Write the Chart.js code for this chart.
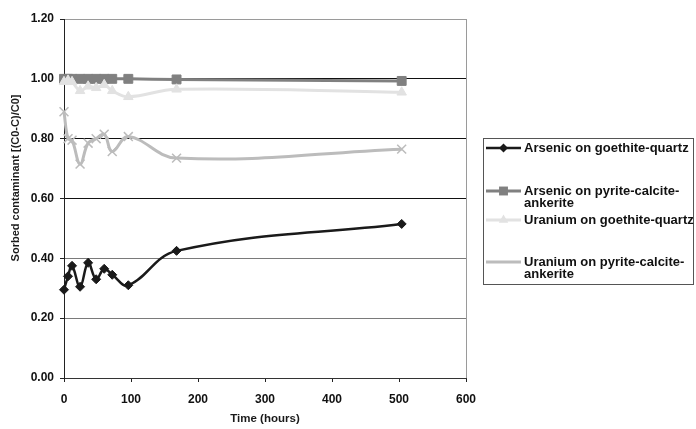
<!DOCTYPE html>
<html>
<head>
<meta charset="utf-8">
<script src="https://cdn.jsdelivr.net/npm/chart.js@4.4.1/dist/chart.umd.min.js"></script>
<style>
  body { margin: 0; background: #fff; }
  #wrap { width: 696px; height: 429px; position: relative; }
</style>
</head>
<body>
<div id="wrap"><canvas id="sorption"></canvas></div>
<script>
// Time in hours and sorbed fraction for each column
const times = [0, 6, 12, 24, 36, 48, 60, 72, 96, 168, 504];
const arsenicGQ = [0.295, 0.34, 0.375, 0.305, 0.385, 0.33, 0.365, 0.345, 0.31, 0.425, 0.515];
const arsenicPCA = [1.0, 1.0, 1.0, 1.0, 1.0, 1.0, 1.0, 1.0, 1.0, 0.998, 0.993];
const uraniumGQ = [0.99, 0.995, 0.99, 0.96, 0.975, 0.97, 0.98, 0.96, 0.94, 0.965, 0.955];
const uraniumPCA = [0.89, 0.80, 0.795, 0.715, 0.785, 0.80, 0.815, 0.757, 0.807, 0.735, 0.765];

const seriesNames = [
    ['Arsenic on goethite-quartz'],
    ['Arsenic on pyrite-calcite-', 'ankerite'],
    ['Uranium on goethite-quartz'],
    ['Uranium on pyrite-calcite-', 'ankerite']
];
const xTicks = [0, 100, 200, 300, 400, 500, 600];
const yTicks = [0, 0.2, 0.4, 0.6, 0.8, 1.0, 1.2];

const FONT = '"Liberation Sans", Arial, sans-serif';

const toPoints = (ys) => times.map((t, i) => ({ x: t, y: ys[i] }));

// Excel style legend box and rotated y title, drawn straight on the canvas
const extras = {
    id: 'extras',
    afterDraw(c) {
        const ctx = c.ctx;
        ctx.save();
        // y axis title
        ctx.font = 'bold 11px ' + FONT;
        ctx.fillStyle = '#1a1a1a';
        ctx.textAlign = 'center';
        ctx.textBaseline = 'middle';
        ctx.translate(16, 178);
        ctx.rotate(-Math.PI / 2);
        ctx.fillText('Sorbed contaminant [(C0-C)/C0]', 0, 0);
        ctx.restore();

        ctx.save();
        ctx.strokeStyle = '#555';
        ctx.lineWidth = 1;
        ctx.strokeRect(483.5, 138.5, 210, 146);
        const rows = [148, 191, 220, 262];
        ctx.font = 'bold 13px ' + FONT;
        ctx.textAlign = 'left';
        ctx.textBaseline = 'middle';
        c.data.datasets.forEach((ds, i) => {
            const y = rows[i];
            ctx.strokeStyle = ds.borderColor;
            ctx.lineWidth = ds.borderWidth;
            ctx.beginPath();
            ctx.moveTo(486, y);
            ctx.lineTo(521, y);
            ctx.stroke();
            ctx.fillStyle = ds.pointBackgroundColor;
            ctx.strokeStyle = ds.pointBorderColor;
            ctx.lineWidth = ds.pointBorderWidth;
            Chart.helpers.drawPoint(ctx, { pointStyle: ds.pointStyle, radius: ds.pointRadius, rotation: 0 }, 503.5, y);
            ctx.fillStyle = '#111';
            seriesNames[i].forEach((line, k) => ctx.fillText(line, 524, y + k * 12.5));
        });
        ctx.restore();
    }
};

new Chart(document.getElementById('sorption'), {
    type: 'line',
    data: {
        datasets: [
            {
                label: seriesNames[0].join(''),
                data: toPoints(arsenicGQ),
                borderColor: '#1a1a1a', borderWidth: 2.5,
                pointStyle: 'rectRot', pointRadius: 4.5,
                pointBackgroundColor: '#1a1a1a', pointBorderColor: '#1a1a1a', pointBorderWidth: 1,
                order: 4, clip: false
            },
            {
                label: seriesNames[1].join(''),
                data: toPoints(arsenicPCA),
                borderColor: '#808080', borderWidth: 3,
                pointStyle: 'rect', pointRadius: 6.3,
                pointBackgroundColor: '#808080', pointBorderColor: '#808080', pointBorderWidth: 1,
                order: 3, clip: false
            },
            {
                label: seriesNames[2].join(''),
                data: toPoints(uraniumGQ),
                borderColor: '#e2e2e2', borderWidth: 3,
                pointStyle: 'triangle', pointRadius: 5.5,
                pointBackgroundColor: '#e2e2e2', pointBorderColor: '#e2e2e2', pointBorderWidth: 1,
                order: 2, clip: false
            },
            {
                label: seriesNames[3].join(''),
                data: toPoints(uraniumPCA),
                borderColor: '#bcbcbc', borderWidth: 3,
                pointStyle: 'crossRot', pointRadius: 6.3,
                pointBackgroundColor: '#bcbcbc', pointBorderColor: '#bcbcbc', pointBorderWidth: 1.5,
                order: 1, clip: false
            }
        ]
    },
    options: {
        responsive: true,
        maintainAspectRatio: false,
        animation: false,
        devicePixelRatio: 1,
        elements: { line: { tension: 0.4, fill: false } },
        layout: { padding: { top: 19, right: 230, left: 0, bottom: 0 } },
        plugins: { legend: { display: false }, tooltip: { enabled: false } },
        scales: {
            x: {
                type: 'linear', min: 0, max: 600,
                afterFit: (s) => { s.height = 51; },
                afterBuildTicks: (s) => { s.ticks = xTicks.map(v => ({ value: v })); },
                ticks: { color: '#111', padding: 10, font: { family: FONT, size: 12, weight: 'bold' } },
                grid: {
                    color: (ctx) => ctx.tick && ctx.tick.value === 600 ? '#9a9a9a' : 'rgba(0,0,0,0)',
                    tickColor: '#222', tickLength: 4, lineWidth: 1
                },
                border: { color: '#333', width: 1 },
                title: { display: true, text: 'Time (hours)', color: '#1a1a1a', padding: { top: 0, bottom: 3 },
                         font: { family: FONT, size: 11.5, weight: 'bold' } }
            },
            y: {
                min: 0, max: 1.2,
                afterFit: (s) => { s.width = 64; },
                afterBuildTicks: (s) => { s.ticks = yTicks.map(v => ({ value: v })); },
                ticks: { color: '#111', padding: 6, callback: (v) => v.toFixed(2),
                         font: { family: FONT, size: 12, weight: 'bold' } },
                grid: {
                    color: (ctx) => {
                        const v = ctx.tick ? Math.round(ctx.tick.value * 10) / 10 : 0;
                        if (v >= 1.2) return '#9a9a9a';
                        if (v >= 0.6) return '#111';
                        return '#7a7a7a';
                    },
                    tickColor: '#222', tickLength: 4, lineWidth: 1
                },
                border: { color: '#222', width: 1 }
            }
        }
    },
    plugins: [extras]
});
</script>
</body>
</html>
